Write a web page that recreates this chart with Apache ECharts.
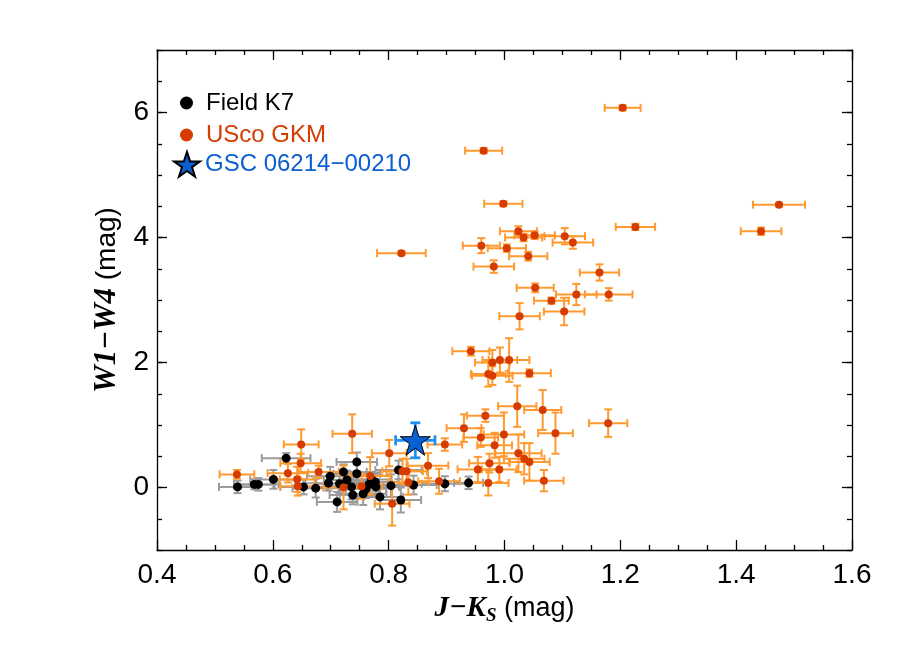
<!DOCTYPE html>
<html>
<head>
<meta charset="utf-8">
<script src="https://cdn.jsdelivr.net/npm/echarts@6/dist/echarts.min.js"></script>
<style>
  html, body { margin: 0; padding: 0; background: #fff; }
  #chart { width: 900px; height: 650px; }
</style>
</head>
<body>
<div id="chart"></div>
<script>
// Field K7 stars: J-Ks, W1-W4 and their errors
const fieldX = [0.539, 0.568, 0.575, 0.601, 0.623, 0.653, 0.674, 0.699, 0.696, 0.711,
  0.722, 0.745, 0.745, 0.736, 0.738, 0.756, 0.761, 0.777, 0.778, 0.785,
  0.804, 0.817, 0.821, 0.843, 0.897, 0.938, 0.715, 0.766, 0.770, 0.728];
const fieldY = [0.01, 0.05, 0.05, 0.13, 0.47, 0.01, -0.01, 0.18, 0.07, -0.23,
  0.25, 0.41, 0.22, 0.01, -0.12, -0.10, -0.02, 0.09, 0.01, -0.15,
  0.03, 0.28, -0.20, 0.04, 0.06, 0.075, 0.06, 0.05, 0.13, 0.12];
const fieldXErr = [0.032, 0.035, 0.035, 0.04, 0.042, 0.04, 0.04, 0.04, 0.04, 0.035,
  0.04, 0.035, 0.04, 0.04, 0.04, 0.04, 0.035, 0.04, 0.04, 0.04,
  0.04, 0.04, 0.035, 0.04, 0.04, 0.025, 0.04, 0.04, 0.035, 0.04];
const fieldYErr = [0.10, 0.08, 0.10, 0.15, 0.08, 0.12, 0.15, 0.15, 0.12, 0.16,
  0.12, 0.15, 0.15, 0.20, 0.15, 0.18, 0.15, 0.15, 0.12, 0.20,
  0.18, 0.15, 0.20, 0.15, 0.12, 0.10, 0.15, 0.15, 0.12, 0.15];

// Upper Sco G/K/M members
const uscoX = [1.204, 0.964, 0.998, 1.226, 0.822, 1.024, 1.033, 1.052, 1.104, 1.118,
  0.960, 1.004, 1.041, 0.9815, 1.164, 1.474, 1.443, 1.180, 1.179, 1.053,
  1.124, 1.081, 1.103, 1.026, 0.942, 0.979, 0.992, 1.008, 0.972, 0.979,
  1.043, 1.022, 1.066, 0.967, 0.930, 1.088, 0.897, 0.959, 0.999, 0.983,
  1.024, 1.034, 1.043, 0.974, 0.954, 0.991, 0.972, 1.068, 0.737, 0.649,
  0.801, 0.868, 0.887, 0.538, 0.648, 0.626, 0.679, 0.642, 0.643, 0.768,
  0.753, 0.722, 0.831, 0.824, 0.834, 0.806];
const uscoY = [6.075, 5.39, 4.54, 4.17, 3.75, 4.10, 4.00, 4.035, 4.02, 3.92,
  3.87, 3.83, 3.70, 3.535, 3.44, 4.525, 4.10, 3.09, 1.03, 3.195,
  3.088, 2.99, 2.816, 2.74, 2.18, 2.00, 2.04, 2.04, 1.815, 1.79,
  1.83, 1.30, 1.24, 1.15, 0.95, 0.87, 0.687, 0.80, 0.85, 0.675,
  0.548, 0.46, 0.41, 0.39, 0.29, 0.29, 0.073, 0.11, 0.86, 0.69,
  0.55, 0.35, 0.10, 0.21, 0.39, 0.23, 0.25, 0.13, 0.02, 0.185,
  0.02, 0.0, 0.26, 0.26, 0.085, -0.26];
const uscoXErr = [0.031, 0.032, 0.033, 0.034, 0.042, 0.032, 0.032, 0.035, 0.035, 0.035,
  0.032, 0.033, 0.033, 0.035, 0.034, 0.045, 0.035, 0.041, 0.033, 0.032,
  0.035, 0.03, 0.035, 0.035, 0.032, 0.03, 0.03, 0.035, 0.03, 0.035,
  0.037, 0.033, 0.032, 0.032, 0.03, 0.03, 0.03, 0.03, 0.035, 0.03,
  0.04, 0.035, 0.035, 0.035, 0.035, 0.03, 0.035, 0.034, 0.034, 0.03,
  0.03, 0.035, 0.036, 0.03, 0.035, 0.035, 0.035, 0.03, 0.03, 0.035,
  0.035, 0.035, 0.035, 0.035, 0.035, 0.03];
const uscoYErr = [0.04, 0.04, 0.04, 0.05, 0.03, 0.08, 0.06, 0.06, 0.13, 0.10,
  0.12, 0.06, 0.07, 0.10, 0.13, 0.03, 0.06, 0.10, 0.22, 0.07,
  0.17, 0.05, 0.22, 0.21, 0.07, 0.20, 0.20, 0.35, 0.20, 0.15,
  0.06, 0.33, 0.32, 0.10, 0.22, 0.33, 0.10, 0.15, 0.35, 0.20,
  0.30, 0.25, 0.30, 0.15, 0.20, 0.20, 0.20, 0.17, 0.31, 0.24,
  0.21, 0.20, 0.20, 0.07, 0.15, 0.15, 0.10, 0.20, 0.15, 0.30,
  0.20, 0.35, 0.20, 0.20, 0.20, 0.35];

// GSC 06214-00210
const gscX = [0.846];
const gscY = [0.755];
const gscXErr = [0.034];
const gscYErr = [0.28];

const xTicks = [0.4, 0.6, 0.8, 1.0, 1.2, 1.4, 1.6];
const yTicks = [0, 2, 4, 6];

const sansFont = '"Liberation Sans", Arial, Helvetica, sans-serif';
const serifFont = '"Liberation Serif", "Times New Roman", serif';
const starPath = 'path://M12,0.5L14.8,8.9L23.6,8.9L16.5,14.1L19.2,22.6L12,17.4L4.8,22.6L7.5,14.1L0.4,8.9L9.2,8.9Z';

function toRows(xs, ys, xe, ye) {
  return xs.map((x, i) => [x, ys[i], xe[i], ye[i]]);
}

const fieldRows = toRows(fieldX, fieldY, fieldXErr, fieldYErr);
const uscoRows = toRows(uscoX, uscoY, uscoXErr, uscoYErr);
const gscRows = toRows(gscX, gscY, gscXErr, gscYErr);

// draws x and y error bars with caps for one point
function errorBars(color, width, cap) {
  return function (params, api) {
    const x = api.value(0);
    const y = api.value(1);
    const xe = api.value(2);
    const ye = api.value(3);
    const left = api.coord([x - xe, y]);
    const right = api.coord([x + xe, y]);
    const top = api.coord([x, y + ye]);
    const bottom = api.coord([x, y - ye]);
    const style = { stroke: color, lineWidth: width };
    const line = (x1, y1, x2, y2) => ({ type: 'line', shape: { x1, y1, x2, y2 }, style });
    return {
      type: 'group',
      children: [
        line(left[0], left[1], right[0], right[1]),
        line(left[0], left[1] - cap, left[0], left[1] + cap),
        line(right[0], right[1] - cap, right[0], right[1] + cap),
        line(top[0], top[1], bottom[0], bottom[1]),
        line(top[0] - cap, top[1], top[0] + cap, top[1]),
        line(bottom[0] - cap, bottom[1], bottom[0] + cap, bottom[1]),
      ],
    };
  };
}

const axisColor = '#000';
const lineStyle = { color: axisColor, width: 1.3 };

function frameX(position, showLabel) {
  return {
    type: 'value',
    position,
    min: 0.4,
    max: 1.6,
    interval: 0.2,
    axisLine: { onZero: false, lineStyle },
    axisTick: { inside: true, length: 10, lineStyle },
    minorTick: { show: true, splitNumber: 4, length: 5, lineStyle },
    splitLine: { show: false },
    minorSplitLine: { show: false },
    axisLabel: {
      show: showLabel,
      customValues: xTicks,
      color: '#000',
      fontFamily: sansFont,
      fontSize: 28,
      margin: 11,
      formatter: (v) => v.toFixed(1),
    },
  };
}

function frameY(position, major) {
  return {
    type: 'value',
    position,
    min: -1,
    max: 7,
    interval: major ? 1 : 0.5,
    axisLine: { show: major, onZero: false, lineStyle },
    axisTick: major
      ? { inside: true, length: 10, customValues: yTicks, lineStyle }
      : { inside: true, length: 5, lineStyle },
    splitLine: { show: false },
    axisLabel: {
      show: major && position === 'left',
      customValues: yTicks,
      color: '#000',
      fontFamily: sansFont,
      fontSize: 28,
      margin: 8,
    },
  };
}

const xMain = frameX('bottom', true);
xMain.name = '{b|J\u2212K}{s|S}{n| (mag)}';
xMain.nameLocation = 'middle';
xMain.nameGap = 37;
xMain.nameTextStyle = {
  rich: {
    b: { fontFamily: serifFont, fontStyle: 'italic', fontWeight: 'bold', fontSize: 29, lineHeight: 34, color: '#000' },
    s: { fontFamily: serifFont, fontStyle: 'italic', fontWeight: 'bold', fontSize: 19, lineHeight: 20, verticalAlign: 'bottom', color: '#000' },
    n: { fontFamily: sansFont, fontSize: 27, lineHeight: 34, color: '#000' },
  },
};

const yMain = frameY('left', true);
yMain.name = '{b|W1\u2212W4}{n| (mag)}';
yMain.nameLocation = 'middle';
yMain.nameGap = 29;
yMain.nameTextStyle = {
  rich: {
    b: { fontFamily: serifFont, fontStyle: 'italic', fontWeight: 'bold', fontSize: 31, lineHeight: 34, color: '#000' },
    n: { fontFamily: sansFont, fontSize: 28, lineHeight: 34, color: '#000' },
  },
};

const chart = echarts.init(document.getElementById('chart'), null, { renderer: 'canvas' });

chart.setOption({
  animation: false,
  backgroundColor: '#fff',
  grid: { left: 157, right: 48, top: 50, bottom: 100, containLabel: false },
  legend: [
    {
      orient: 'vertical',
      left: 175,
      top: 86,
      itemWidth: 13,
      itemHeight: 13,
      itemGap: 8,
      selectedMode: false,
      textStyle: { fontFamily: sansFont, fontSize: 24, padding: [0, 0, 0, 8] },
      data: [
        { name: 'Field K7', icon: 'circle', textStyle: { color: '#000' } },
        { name: 'USco GKM', icon: 'circle', textStyle: { color: '#d63c00' } },
      ],
    },
    {
      orient: 'vertical',
      left: 168,
      top: 146,
      itemWidth: 26,
      itemHeight: 26,
      selectedMode: false,
      textStyle: { fontFamily: sansFont, fontSize: 24 },
      data: [
        { name: 'GSC 06214\u221200210', icon: starPath, textStyle: { color: '#0a5fd2' } },
      ],
    },
  ],
  xAxis: [xMain, frameX('top', false)],
  yAxis: [yMain, frameY('left', false), frameY('right', true), frameY('right', false)],
  series: [
    {
      name: 'field-err',
      type: 'custom',
      renderItem: errorBars('#9b9b9b', 2, 4),
      encode: { x: 0, y: 1 },
      data: fieldRows,
      silent: true,
    },
    {
      name: 'Field K7',
      type: 'scatter',
      symbol: 'circle',
      symbolSize: 9,
      itemStyle: { color: '#000', opacity: 1 },
      data: fieldRows.map((r) => [r[0], r[1]]),
    },
    {
      name: 'usco-err',
      type: 'custom',
      renderItem: errorBars('#ff9a30', 2, 4),
      encode: { x: 0, y: 1 },
      data: uscoRows,
      silent: true,
    },
    {
      name: 'USco GKM',
      type: 'scatter',
      symbol: 'circle',
      symbolSize: 8,
      itemStyle: { color: '#d63c00', opacity: 1 },
      data: uscoRows.map((r) => [r[0], r[1]]),
    },
    {
      name: 'gsc-err',
      type: 'custom',
      renderItem: errorBars('#1e90f0', 2.8, 5),
      encode: { x: 0, y: 1 },
      data: gscRows,
      silent: true,
    },
    {
      name: 'GSC 06214\u221200210',
      type: 'scatter',
      symbol: starPath,
      symbolSize: 30,
      itemStyle: { color: '#0a5fd2', borderColor: '#000', borderWidth: 1, opacity: 1 },
      data: gscRows.map((r) => [r[0], r[1]]),
    },
  ],
});
</script>
</body>
</html>
